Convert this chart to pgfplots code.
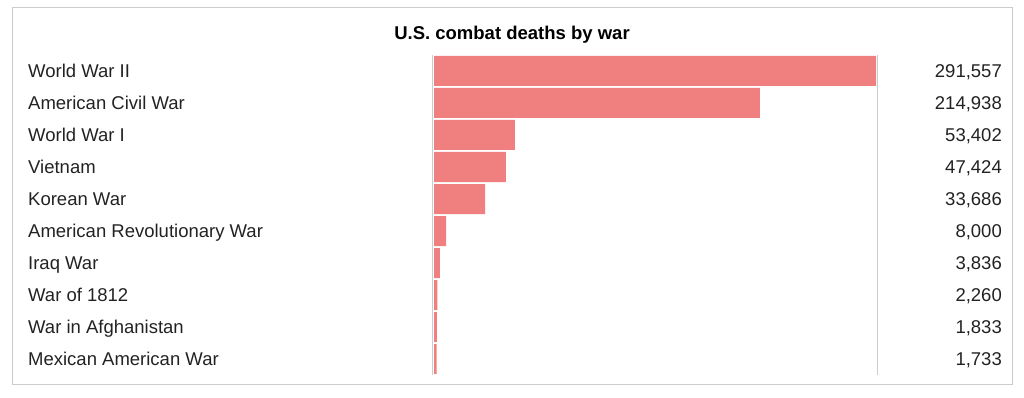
\documentclass[border=0pt]{standalone}
\usepackage{pgfplots}
\usepackage{pgfplotstable}
\pgfplotsset{compat=1.18}
\usepackage{fontspec}
\setmainfont{Liberation Sans}
\definecolor{barc}{HTML}{F08080}
\definecolor{linec}{HTML}{CCCCCC}
\definecolor{txt}{HTML}{222222}
\pgfplotstableread{
idx value
0 291557
1 214938
2 53402
3 47424
4 33686
5 8000
6 3836
7 2260
8 1833
9 1733
}\wardata
\begin{document}
\begin{tikzpicture}[font=\fontsize{18.5}{22}\selectfont, x=1pt, y=1pt]
\useasboundingbox (0,0) rectangle (1024,397);
\draw[linec, line width=1pt] (12,12.5) rectangle (1012,389);
\node[anchor=base, font=\fontsize{18.5}{22}\selectfont\bfseries, text=black] at (512,357.7) {U.S. combat deaths by war};
\pgfplotsset{common/.style={
  at={(432.5pt,22pt)}, anchor=south west, scale only axis,
  width=445pt, height=320pt,
  xmin=-989.5, xmax=292547, ymin=-0.5, ymax=9.5, y dir=reverse,
  ytick={0,...,9}, major tick length=0pt, xtick=\empty,
  axis x line=none,
  axis line style={linec, line width=1pt, -},
  clip=false,
}}
\begin{axis}[common, axis y line*=left,
  yticklabels={World War II, American Civil War, World War I, Vietnam, Korean War, American Revolutionary War, Iraq War, War of 1812, War in Afghanistan, Mexican American War},
  yticklabel style={anchor=base west, inner sep=0pt, xshift=-404.5pt, yshift=-6.6pt, text=txt}]
\addplot[xbar, fill=barc, draw=none, bar width=30pt, bar shift=0pt] table[x=value, y=idx]{\wardata};
\end{axis}
\begin{axis}[common, axis y line*=right, yticklabel pos=right,
  yticklabels={{291,557},{214,938},{53,402},{47,424},{33,686},{8,000},{3,836},{2,260},{1,833},{1,733}},
  yticklabel style={anchor=base east, inner sep=0pt, xshift=124.5pt, yshift=-6.6pt, text=txt}]
\addplot[draw=none] coordinates {(0,0)};
\end{axis}
\end{tikzpicture}
\end{document}
